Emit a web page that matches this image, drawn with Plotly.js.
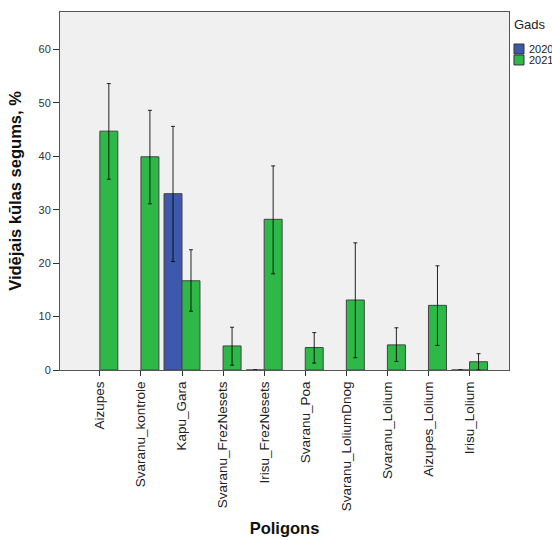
<!DOCTYPE html>
<html>
<head>
<meta charset="utf-8">
<script src="https://cdn.plot.ly/plotly-3.0.1.min.js"></script>
<style>html,body{margin:0;padding:0;background:#fff;}#chart{width:552px;height:540px;}</style>
</head>
<body>
<div id="chart"></div>
<script>
const categories = ["Aizupes","Svaranu_kontrole","Kapu_Gara","Svaranu_FrezNesets","Irisu_FrezNesets","Svaranu_Poa","Svaranu_LoliumDnog","Svaranu_Lolium","Aizupes_Lolium","Irisu_Lolium"];
const years = ["2020","2021"];
const legendTitle = "Gads";
const mean2020 = [null, null, 33.0, null, 0, null, null, null, null, 0];
const errPlus2020 = [null, null, 12.6, null, null, null, null, null, null, null];
const errMinus2020 = [null, null, 12.7, null, null, null, null, null, null, null];
const mean2021 = [44.7, 39.9, 16.7, 4.5, 28.2, 4.2, 13.1, 4.7, 12.1, 1.55];
const errPlus2021 = [8.9, 8.7, 5.8, 3.5, 10.0, 2.8, 10.7, 3.2, 7.4, 1.5];
const errMinus2021 = [9.0, 8.8, 5.7, 3.6, 10.2, 2.9, 10.8, 3.1, 7.5, 1.55];
const colors = ["#3E58AC", "#2EB848"];

const font = "Liberation Sans, Arial, sans-serif";
const errStyle = {type: "data", symmetric: false, color: "rgba(0,0,0,0.85)", thickness: 1, width: 2};
const barLine = {color: "#444", width: 1};

const traces = [
  {type: "bar", name: years[0], x: categories, y: mean2020,
   marker: {color: colors[0], line: barLine},
   error_y: Object.assign({array: errPlus2020, arrayminus: errMinus2020}, errStyle)},
  {type: "bar", name: years[1], x: categories, y: mean2021,
   marker: {color: colors[1], line: barLine},
   error_y: Object.assign({array: errPlus2021, arrayminus: errMinus2021}, errStyle)}
];

// Legend drawn in the right margin (paper coordinates), built from years/colors
const legX0 = 1.0111, legX1 = 1.0334, legTextX = 1.0401;
const legTopY = 0.9106, legStep = 0.0307, legSize = 0.0279;
const shapes = years.map((yr, i) => ({
  type: "rect", xref: "paper", yref: "paper",
  x0: legX0, x1: legX1,
  y1: legTopY - i * legStep, y0: legTopY - i * legStep - legSize,
  fillcolor: colors[i], line: {color: "#333", width: 1}
}));
const annotations = years.map((yr, i) => ({
  xref: "paper", yref: "paper", showarrow: false,
  x: legTextX, xanchor: "left",
  y: legTopY - i * legStep - legSize / 2, yanchor: "middle",
  text: yr, font: {family: font, size: 11, color: "#222"}
}));
annotations.push({
  xref: "paper", yref: "paper", showarrow: false,
  x: legX0 - 0.004, xanchor: "left", y: 0.9637, yanchor: "middle",
  text: legendTitle, font: {family: font, size: 13, color: "#222"}
});

const layout = {
  width: 552, height: 540,
  margin: {l: 60, r: 43, t: 12, b: 170, autoexpand: false},
  paper_bgcolor: "#ffffff",
  plot_bgcolor: "#f0f0f0",
  font: {family: font, size: 11, color: "#333"},
  barmode: "group",
  bargap: 0.125,
  bargroupgap: 0,
  showlegend: false,
  shapes: shapes,
  annotations: annotations,
  xaxis: {
    type: "category",
    range: [-0.97, 9.96],
    showline: true, mirror: true, linecolor: "#555", linewidth: 1,
    ticks: "outside", ticklen: 5, tickcolor: "#333",
    tickangle: -90,
    tickfont: {family: font, size: 13.5, color: "#222"},
    showgrid: false, zeroline: false,
    automargin: false,
    title: {text: "Poligons", font: {family: font, size: 16.5, color: "#111", weight: "bold"}, standoff: 12}
  },
  yaxis: {
    range: [0, 67],
    tickvals: [0, 10, 20, 30, 40, 50, 60],
    showline: true, mirror: true, linecolor: "#555", linewidth: 1,
    ticks: "outside", ticklen: 6, tickcolor: "#333",
    tickfont: {family: font, size: 11, color: "#333"},
    showgrid: false, zeroline: false,
    automargin: false,
    title: {text: "Vidējais kūlas segums, %", font: {family: font, size: 16.5, color: "#111", weight: "bold"}, standoff: 12}
  }
};

Plotly.newPlot("chart", traces, layout, {staticPlot: true, displayModeBar: false});
</script>
</body>
</html>
